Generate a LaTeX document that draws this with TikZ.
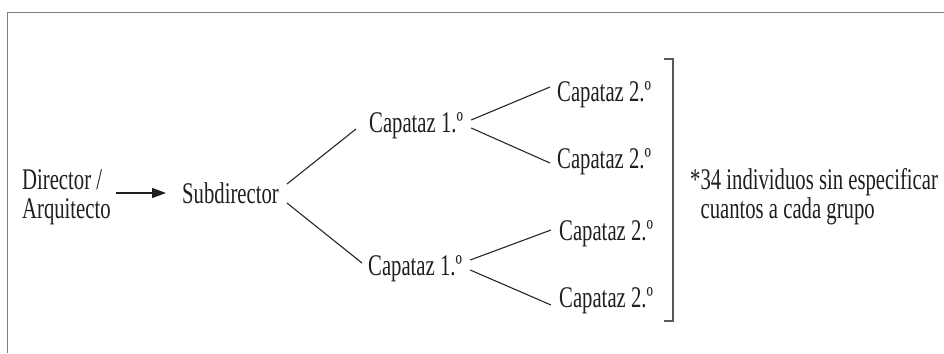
\documentclass[tikz,border=0pt]{standalone}
\usepackage{fontspec}
\setmainfont[FakeStretch=0.69]{Liberation Serif}
\usetikzlibrary{calc,arrows.meta}
\begin{document}
\begin{tikzpicture}[x=1pt,y=-1pt,
  lbl/.style={inner sep=0pt, anchor=base west, font=\fontsize{30}{29}\selectfont, text=black!88},
  link/.style={line width=1.1pt, draw=black!85},
  framerule/.style={line width=1.6pt, draw=black!50},
  bracketrule/.style={line width=2pt, draw=black!65}]
  \useasboundingbox (0,0) rectangle (944,353);

  % outer frame (top and left sides only)
  \draw[framerule] (7.5,353) -- (7.5,12.5) -- (944,12.5);

  % labels
  \node[lbl] (dir) at (22,189) {\begin{tabular}[t]{@{}l@{}}Director /\\Arquitecto\end{tabular}};
  \node[lbl] (sub) at (182,203) {Subdirector};
  \node[lbl] (c1a) at (369,132) {Capataz 1.º};
  \node[lbl] (c1b) at (368,275) {Capataz 1.º};
  \node[lbl] (c2a) at (557,101) {Capataz 2.º};
  \node[lbl] (c2b) at (557,168) {Capataz 2.º};
  \node[lbl] (c2c) at (559,240) {Capataz 2.º};
  \node[lbl] (c2d) at (559,307) {Capataz 2.º};
  \node[lbl] (note) at (690,189) {\begin{tabular}[t]{@{}l@{}}*34 individuos sin especificar\\\hphantom{*}cuantos a cada grupo\end{tabular}};

  % arrow
  \draw[line width=1.5pt, black!88, -{Triangle[length=14pt,width=10pt]}]
    ($(dir.base east)+(5,4)$) -- ($(sub.base west)+(-16,-10)$);

  % branches
  \draw[link] ($(sub.base east)+(8,-19)$) -- ($(c1a.base west)+(-13,-3)$);
  \draw[link] ($(sub.base east)+(8,0)$) -- ($(c1b.base west)+(-6,-12)$);
  \draw[link] ($(c1a.base east)+(8,-12)$) -- ($(c2a.base west)+(-7,-14)$);
  \draw[link] ($(c1a.base east)+(8,-4)$) -- ($(c2b.base west)+(-7,-5)$);
  \draw[link] ($(c1b.base east)+(8,-15)$) -- ($(c2c.base west)+(-8,-10)$);
  \draw[link] ($(c1b.base east)+(8,-5)$) -- ($(c2d.base west)+(-8,-2)$);

  % bracket grouping the second-level foremen
  \coordinate (bt) at (673,59);
  \coordinate (bb) at (673,321);
  \draw[bracketrule] ($(bt)+(-9,0)$) -- (bt) -- (bb) -- ($(bb)+(-9,0)$);
\end{tikzpicture}
\end{document}
